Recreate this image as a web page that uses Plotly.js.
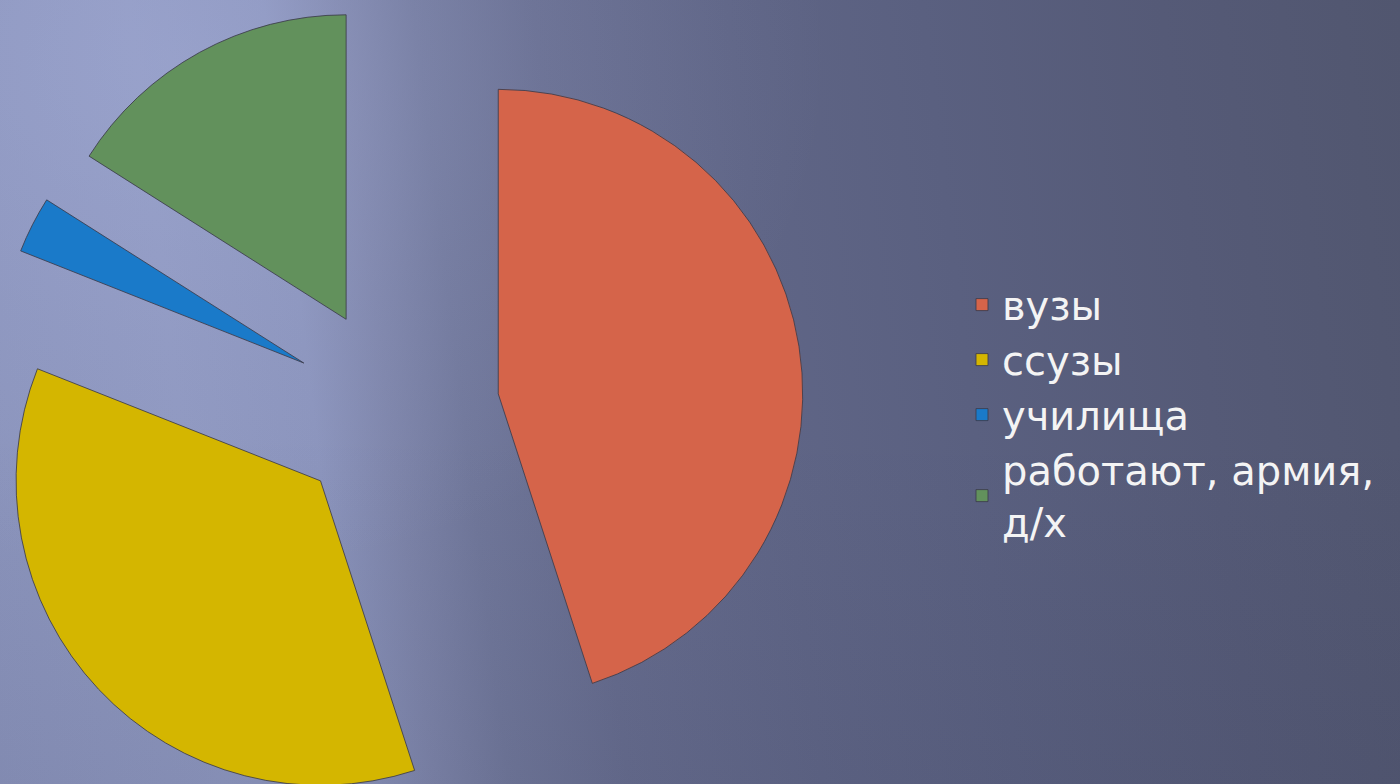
<!DOCTYPE html>
<html>
<head>
<meta charset="utf-8">
<script src="https://cdn.plot.ly/plotly-3.0.1.min.js"></script>
<style>
  html, body { margin:0; padding:0; width:1400px; height:784px; overflow:hidden; }
  body {
    position:relative;
    background:
      radial-gradient(ellipse 650px 520px at 180px 60px, rgba(180,190,235,0.28) 0%, rgba(180,190,235,0.10) 55%, rgba(180,190,235,0) 100%),
      linear-gradient(180deg, rgba(0,0,0,0) 55%, rgba(30,35,60,0.08) 100%),
      linear-gradient(83deg, #8a93bb 0%, #8e97bf 15%, #8a93bb 24%, #7d84a9 29%, #70779a 34%, #666c8e 42%, #5f6586 55%, #5a6080 68%, #555a77 84%, #51566f 100%);
  }
  #chart { position:absolute; left:-12px; top:2px; width:1412px; height:816px; }
</style>
</head>
<body>
<div id="chart"></div>
<script>
const categories = ["вузы", "ссузы", "училища", "работают, армия,<br>д/х"];
const shares = [45, 36, 3, 16];
const sliceColors = ["#d5644a", "#d4b600", "#1a7ac9", "#62915c"];

const W = 1412, H = 816;
const trace = {
  type: "pie",
  labels: categories,
  values: shares,
  sort: false,
  direction: "clockwise",
  rotation: 0,
  pull: [0.34, 0.34, 0.34, 0.34],
  textinfo: "none",
  hoverinfo: "none",
  marker: { colors: sliceColors, line: { color: "rgba(60,60,75,0.85)", width: 1 } },
  domain: { x: [0, H / W], y: [0, 1] }
};

const layout = {
  width: W, height: H,
  margin: { l: 0, r: 0, t: 0, b: 0 },
  paper_bgcolor: "rgba(0,0,0,0)",
  plot_bgcolor: "rgba(0,0,0,0)",
  showlegend: true,
  legend: {
    x: 0.6898, xanchor: "left",
    y: 0.669, yanchor: "top",
    bgcolor: "rgba(0,0,0,0)",
    font: { family: "DejaVu Sans, sans-serif", size: 40, color: "#f4f4f4" }
  }
};

Plotly.newPlot("chart", [trace], layout, { displayModeBar: false, staticPlot: true });
</script>
</body>
</html>
